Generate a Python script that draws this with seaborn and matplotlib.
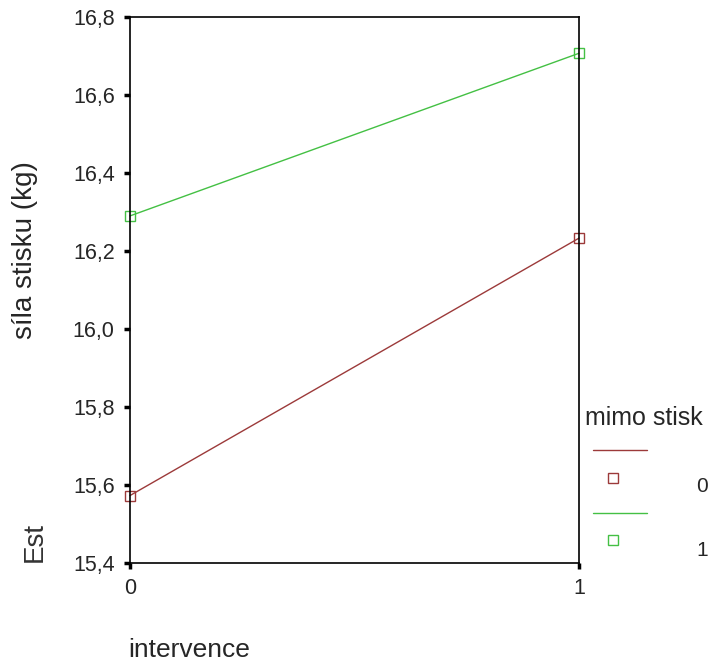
import numpy as np
import pandas as pd
import matplotlib
matplotlib.use('Agg')
import matplotlib.pyplot as plt
import seaborn as sns
from matplotlib.lines import Line2D
from matplotlib.ticker import FuncFormatter

# estimated marginal means
intervence = [0, 1]
mimo_0 = [15.573, 16.233]
mimo_1 = [16.290, 16.707]
groups = ['0', '1']
colors = {'0': '#9c3a3a', '1': '#44c044'}
yticks = [15.4, 15.6, 15.8, 16.0, 16.2, 16.4, 16.6, 16.8]

df = pd.DataFrame({
    'intervence': intervence * 2,
    'sila': mimo_0 + mimo_1,
    'mimo': ['0'] * 2 + ['1'] * 2,
})

sns.set_style('white')
plt.rcParams['font.family'] = ['Liberation Sans', 'DejaVu Sans']

fig = plt.figure(figsize=(7.2, 6.63), dpi=100)
ax = fig.add_axes([130 / 720, 100 / 663, 449 / 720, 546 / 663])

for g in groups:
    sub = df[df['mimo'] == g]
    sns.lineplot(data=sub, x='intervence', y='sila', ax=ax, color=colors[g],
                 linewidth=1.0, marker='s', markersize=7.5, markerfacecolor='none',
                 markeredgecolor=colors[g], markeredgewidth=1.0, legend=False)
for ln in ax.lines:
    ln.set_clip_on(False)

ax.set_xlim(0, 1)
ax.set_ylim(15.4, 16.8)
ax.set_xticks([0, 1])
ax.set_yticks(yticks)
ax.yaxis.set_major_formatter(FuncFormatter(lambda v, p: f'{v:.1f}'.replace('.', ',')))
ax.tick_params(axis='both', direction='out', length=4, width=2.5, color='black',
               labelsize=15.5, pad=7, left=True, bottom=True)
for s in ax.spines.values():
    s.set_color('black')
    s.set_linewidth(1.2)

ax.set_xlabel('')
ax.set_ylabel('síla stisku (kg)', fontsize=20)
ax.yaxis.set_label_coords(-0.205, 0.573)

fig.text(128 / 720, 6 / 663, 'intervence', fontsize=19, ha='left', va='baseline')
fig.text(35 / 720, 101 / 663, 'Est', fontsize=20, rotation=90, ha='center',
         va='bottom', color='#333333')

# legend drawn in the SPSS layout: line above marker, label on the right
fig.text(585 / 720, (663 - 418) / 663, 'mimo stisk', fontsize=18, ha='left', va='center')
leg_rows = [(450, 478, 487), (513, 540, 550)]
for g, (yl, ym, yt) in zip(groups, leg_rows):
    fig.add_artist(Line2D([593 / 720, 647 / 720], [(663 - yl) / 663] * 2,
                          color=colors[g], lw=1.0, transform=fig.transFigure))
    fig.add_artist(Line2D([613 / 720], [(663 - ym) / 663], marker='s', markersize=7.5,
                          markerfacecolor='none', markeredgecolor=colors[g],
                          markeredgewidth=1.0, transform=fig.transFigure))
    fig.text(702 / 720, (663 - yt) / 663, g, fontsize=15, ha='center', va='center')

fig.savefig('out.png', dpi=100)
